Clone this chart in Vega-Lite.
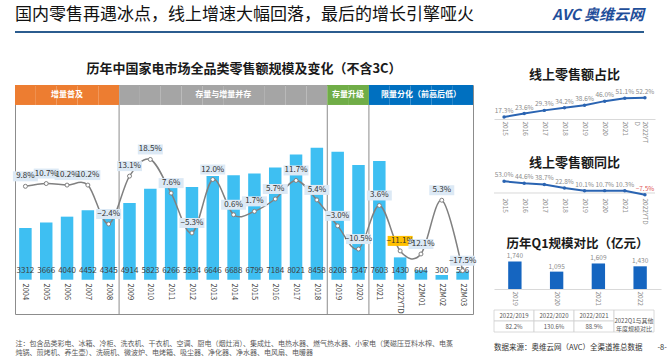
{
  "$schema": "https://vega.github.io/schema/vega-lite/v6.json",
  "padding": {"left": 12, "top": 6, "right": 0, "bottom": 0},
  "background": "white",
  "config": {"font": "Noto Sans CJK SC", "view": {"stroke": null}},
  "datasets": {
    "main": [
      {"cat": "2004", "sales": 3312, "growth": 0.098, "seg": "增量普及"},
      {"cat": "2005", "sales": 3666, "growth": 0.107, "seg": "增量普及"},
      {"cat": "2006", "sales": 4040, "growth": 0.102, "seg": "增量普及"},
      {"cat": "2007", "sales": 4452, "growth": 0.102, "seg": "增量普及"},
      {"cat": "2008", "sales": 4345, "growth": -0.024, "seg": "增量普及"},
      {"cat": "2009", "sales": 4914, "growth": 0.131, "seg": "存量与增量并存"},
      {"cat": "2010", "sales": 5823, "growth": 0.185, "seg": "存量与增量并存"},
      {"cat": "2011", "sales": 6266, "growth": 0.076, "seg": "存量与增量并存"},
      {"cat": "2012", "sales": 5934, "growth": -0.053, "seg": "存量与增量并存"},
      {"cat": "2013", "sales": 6646, "growth": 0.120, "seg": "存量与增量并存"},
      {"cat": "2014", "sales": 6688, "growth": 0.006, "seg": "存量与增量并存"},
      {"cat": "2015", "sales": 6799, "growth": 0.017, "seg": "存量与增量并存"},
      {"cat": "2016", "sales": 7184, "growth": 0.057, "seg": "存量与增量并存"},
      {"cat": "2017", "sales": 8021, "growth": 0.117, "seg": "存量与增量并存"},
      {"cat": "2018", "sales": 8458, "growth": 0.054, "seg": "存量与增量并存"},
      {"cat": "2019", "sales": 8208, "growth": -0.030, "seg": "存量升级"},
      {"cat": "2020", "sales": 7347, "growth": -0.105, "seg": "存量升级"},
      {"cat": "2021", "sales": 7603, "growth": 0.036, "seg": "限量分化（前高后低）"},
      {"cat": "2022YTD", "sales": 1430, "growth": -0.111, "seg": "限量分化（前高后低）"},
      {"cat": "22M01", "sales": 604, "growth": -0.121, "seg": "限量分化（前高后低）"},
      {"cat": "22M02", "sales": 300, "growth": 0.053, "seg": "限量分化（前高后低）"},
      {"cat": "22M03", "sales": 526, "growth": -0.175, "seg": "限量分化（前高后低）"}
    ],
    "segs": [
      {"seg": "增量普及", "cat": "2006", "pos": "mid"},
      {"seg": "存量与增量并存", "cat": "2013", "pos": "end"},
      {"seg": "存量升级", "cat": "2019", "pos": "end"},
      {"seg": "限量分化（前高后低）", "cat": "22M01", "pos": "mid"}
    ],
    "bounds": [{"cat": "2008"}, {"cat": "2018"}, {"cat": "2020"}],
    "share": [
      {"yr": "2015", "v": 0.173}, {"yr": "2016", "v": 0.236}, {"yr": "2017", "v": 0.293},
      {"yr": "2018", "v": 0.342}, {"yr": "2019", "v": 0.386}, {"yr": "2020", "v": 0.460},
      {"yr": "2021", "v": 0.511}, {"yr": "2022YTD", "v": 0.522}
    ],
    "yoy": [
      {"yr": "2015", "v": 0.530}, {"yr": "2016", "v": 0.446}, {"yr": "2017", "v": 0.387},
      {"yr": "2018", "v": 0.228}, {"yr": "2019", "v": 0.101}, {"yr": "2020", "v": 0.107},
      {"yr": "2021", "v": 0.103}, {"yr": "2022YTD", "v": -0.075}
    ],
    "q1": [
      {"yr": "2019", "v": 1740}, {"yr": "2020", "v": 1095}, {"yr": "2021", "v": 1609}, {"yr": "2022", "v": 1430}
    ],
    "tbl": [
      {"c": "a", "r": "1", "t": "2022/2019"}, {"c": "b", "r": "1", "t": "2022/2020"}, {"c": "c", "r": "1", "t": "2022/2021"},
      {"c": "a", "r": "2", "t": "82.2%"}, {"c": "b", "r": "2", "t": "130.6%"}, {"c": "c", "r": "2", "t": "88.9%"}
    ],
    "tblm": [{"c": "d", "t": "2022Q1与其他\n年度规模对比"}]
  },
  "spacing": 25,
  "vconcat": [
    {
      "spacing": 0,
      "bounds": "flush",
      "hconcat": [
        {
          "width": 520, "height": 2,
          "view": {"fill": "#2B5C8F", "stroke": null},
          "title": {"text": "国内零售再遇冰点，线上增速大幅回落，最后的增长引擎哑火", "anchor": "start", "frame": "group", "fontSize": 17, "fontWeight": "normal", "color": "#111111", "offset": 2},
          "data": {"values": [{}]},
          "mark": {"type": "text", "text": ""},
          "encoding": {}
        },
        {
          "width": 109, "height": 2,
          "view": {"fill": "#2B5C8F", "stroke": null},
          "title": {"text": "AVC 奥维云网", "anchor": "end", "frame": "group", "fontSize": 15, "fontWeight": "bold", "fontStyle": "italic", "color": "#1F4E9A", "offset": 3},
          "data": {"values": [{}]},
          "mark": {"type": "text", "text": ""},
          "encoding": {}
        }
      ]
    },
    {
      "spacing": 16,
      "hconcat": [
        {
          "width": 458, "height": 229,
          "view": {"stroke": "#8C8C8C", "strokeWidth": 1},
          "title": {"text": "历年中国家电市场全品类零售额规模及变化（不含3C）", "anchor": "middle", "frame": "group", "fontSize": 13, "fontWeight": "bold", "color": "#1a1a1a", "offset": 9},
          "resolve": {"scale": {"y": "independent"}},
          "layer": [
            {
              "data": {"name": "main"},
              "mark": {"type": "rect"},
              "encoding": {
                "x": {"field": "cat", "type": "nominal", "scale": {"domain": ["2004","2005","2006","2007","2008","2009","2010","2011","2012","2013","2014","2015","2016","2017","2018","2019","2020","2021","2022YTD","22M01","22M02","22M03"], "paddingInner": 0, "paddingOuter": 0}, "axis": {"orient": "bottom", "offset": -34, "labelAngle": 90, "labelFontSize": 7.5, "labelColor": "#404040", "domain": false, "ticks": false, "labelPadding": 3, "title": ["注：包含品类彩电、冰箱、冷柜、洗衣机、干衣机、空调、厨电（烟灶消）、集成灶、电热水器、燃气热水器、小家电（煲磁压豆料水榨、电蒸", "炖锅、煎烤机、养生壶）、洗碗机、微波炉、电烤箱、吸尘器、净化器、净水器、电风扇、电暖器"], "titleFontSize": 7, "titleFontWeight": "normal", "titleColor": "#595959", "titleAnchor": "start", "titlePadding": 26, "titleLineHeight": 9}},
                "y": {"datum": 12480, "type": "quantitative", "scale": {"domain": [-2200, 12480], "nice": false, "zero": false}, "axis": null},
                "y2": {"datum": 11200},
                "color": {"field": "seg", "type": "nominal", "scale": {"domain": ["增量普及", "存量与增量并存", "存量升级", "限量分化（前高后低）"], "range": ["#ED7D31", "#A5A5A5", "#70AD47", "#0070C0"]}, "legend": null}
              }
            },
            {
              "data": {"name": "segs"},
              "transform": [{"filter": "datum.pos === 'mid'"}],
              "mark": {"type": "text", "color": "white", "fontSize": 8, "fontWeight": "bold", "baseline": "middle"},
              "encoding": {
                "x": {"field": "cat", "type": "nominal"},
                "y": {"datum": 11840, "type": "quantitative", "scale": {"domain": [-2200, 12480], "nice": false, "zero": false}, "axis": null},
                "text": {"field": "seg"}
              }
            },
            {
              "data": {"name": "segs"},
              "transform": [{"filter": "datum.pos === 'end'"}],
              "mark": {"type": "text", "color": "white", "fontSize": 8, "fontWeight": "bold", "baseline": "middle"},
              "encoding": {
                "x": {"field": "cat", "type": "nominal", "bandPosition": 1},
                "y": {"datum": 11840, "type": "quantitative", "scale": {"domain": [-2200, 12480], "nice": false, "zero": false}, "axis": null},
                "text": {"field": "seg"}
              }
            },
            {
              "data": {"name": "main"},
              "mark": {"type": "bar", "width": {"band": 0.6}, "color": "#3EBFF2"},
              "encoding": {
                "x": {"field": "cat", "type": "nominal"},
                "y": {"field": "sales", "type": "quantitative", "scale": {"domain": [-2200, 12480], "nice": false, "zero": false}, "axis": null},
                "y2": {"datum": 0}
              }
            },
            {
              "data": {"name": "bounds"},
              "mark": {"type": "rule", "color": "#8C8C8C", "strokeWidth": 1},
              "encoding": {
                "x": {"field": "cat", "type": "nominal", "bandPosition": 1},
                "y": {"datum": 11200, "type": "quantitative", "scale": {"domain": [-2200, 12480], "nice": false, "zero": false}, "axis": null},
                "y2": {"datum": -2200}
              }
            },
            {
              "data": {"name": "main"},
              "mark": {"type": "text", "fontSize": 8, "color": "#404040", "baseline": "middle"},
              "encoding": {
                "x": {"field": "cat", "type": "nominal"},
                "y": {"datum": 560, "type": "quantitative", "scale": {"domain": [-2200, 12480], "nice": false, "zero": false}, "axis": null},
                "text": {"field": "sales", "type": "quantitative", "format": "d"}
              }
            },
            {
              "data": {"name": "main"},
              "mark": {"type": "line", "interpolate": "cardinal", "color": "#808080", "strokeWidth": 1.5},
              "encoding": {
                "x": {"field": "cat", "type": "nominal"},
                "y": {"field": "growth", "type": "quantitative", "scale": {"domain": [-0.3152, 0.4259], "nice": false, "zero": false}, "axis": null}
              }
            },
            {
              "data": {"name": "main"},
              "mark": {"type": "point", "filled": true, "fill": "white", "stroke": "#808080", "strokeWidth": 1, "size": 16, "opacity": 1},
              "encoding": {
                "x": {"field": "cat", "type": "nominal"},
                "y": {"field": "growth", "type": "quantitative", "scale": {"domain": [-0.3152, 0.4259], "nice": false, "zero": false}, "axis": null}
              }
            },
            {
              "data": {"name": "main"},
              "mark": {"type": "point", "shape": "M-1,-0.4H1V0.4H-1Z", "size": 625, "filled": true, "opacity": 1, "strokeWidth": 0, "yOffset": -10},
              "encoding": {
                "x": {"field": "cat", "type": "nominal"},
                "y": {"field": "growth", "type": "quantitative", "scale": {"domain": [-0.3152, 0.4259], "nice": false, "zero": false}, "axis": null},
                "color": {"condition": {"test": "datum.cat === '2022YTD'", "value": "#FFC000"}, "value": "#DCE9F5"}
              }
            },
            {
              "data": {"name": "main"},
              "mark": {"type": "text", "fontSize": 8, "color": "#333333", "baseline": "middle", "yOffset": -10},
              "encoding": {
                "x": {"field": "cat", "type": "nominal"},
                "y": {"field": "growth", "type": "quantitative", "scale": {"domain": [-0.3152, 0.4259], "nice": false, "zero": false}, "axis": null},
                "text": {"field": "growth", "type": "quantitative", "format": ".1%"}
              }
            }
          ]
        },
        {
          "spacing": 3,
          "vconcat": [
            {
              "width": 161, "height": 34,
              "title": {"text": "线上零售额占比", "anchor": "middle", "frame": "group", "fontSize": 13, "fontWeight": "bold", "color": "#1a1a1a", "offset": 3.5},
              "data": {"name": "share"},
              "layer": [
                {
                  "mark": {"type": "line", "color": "#2A64B2", "strokeWidth": 2},
                  "encoding": {
                    "x": {"field": "yr", "type": "ordinal", "sort": null, "scale": {"type": "point", "padding": 0.5}, "axis": {"labelAngle": 90, "labelFontSize": 6.5, "labelColor": "#8C8C8C", "domainColor": "#D9D9D9", "ticks": false, "title": null, "labelPadding": 2, "labelExpr": "datum.label == '2022YTD' ? ['2022YT', 'D'] : datum.label"}},
                    "y": {"field": "v", "type": "quantitative", "scale": {"domain": [0.137, 0.752], "nice": false, "zero": false}, "axis": null}
                  }
                },
                {
                  "mark": {"type": "point", "filled": true, "color": "#2A64B2", "size": 12, "opacity": 1},
                  "encoding": {
                    "x": {"field": "yr", "type": "ordinal", "sort": null},
                    "y": {"field": "v", "type": "quantitative"}
                  }
                },
                {
                  "mark": {"type": "text", "fontSize": 6.5, "color": "#8C8C8C", "baseline": "bottom", "dy": -3},
                  "encoding": {
                    "x": {"field": "yr", "type": "ordinal", "sort": null},
                    "y": {"field": "v", "type": "quantitative"},
                    "text": {"field": "v", "type": "quantitative", "format": ".1%"}
                  }
                }
              ]
            },
            {
              "width": 161, "height": 18,
              "title": {"text": ["", "线上零售额同比"], "lineHeight": 11, "anchor": "middle", "frame": "group", "fontSize": 13, "fontWeight": "bold", "color": "#1a1a1a", "offset": 2},
              "layer": [
                {
                  "data": {"values": [{"z": 0}]},
                  "mark": {"type": "rule", "color": "#D9D9D9"},
                  "encoding": {
                    "y": {"field": "z", "type": "quantitative", "scale": {"domain": [-0.136, 0.679], "nice": false, "zero": false}, "axis": null}
                  }
                },
                {
                  "data": {"name": "yoy"},
                  "mark": {"type": "line", "color": "#2A64B2", "strokeWidth": 2},
                  "encoding": {
                    "x": {"field": "yr", "type": "ordinal", "sort": null, "scale": {"type": "point", "padding": 0.5}, "axis": {"labelAngle": 90, "labelFontSize": 6.5, "labelColor": "#8C8C8C", "domain": false, "ticks": false, "title": null, "labelPadding": 2}},
                    "y": {"field": "v", "type": "quantitative"}
                  }
                },
                {
                  "data": {"name": "yoy"},
                  "mark": {"type": "point", "filled": true, "color": "#2A64B2", "size": 12, "opacity": 1},
                  "encoding": {
                    "x": {"field": "yr", "type": "ordinal", "sort": null},
                    "y": {"field": "v", "type": "quantitative"}
                  }
                },
                {
                  "data": {"name": "yoy"},
                  "mark": {"type": "text", "fontSize": 6.5, "baseline": "bottom", "dy": -3},
                  "encoding": {
                    "x": {"field": "yr", "type": "ordinal", "sort": null},
                    "y": {"field": "v", "type": "quantitative"},
                    "text": {"field": "v", "type": "quantitative", "format": ".1%"},
                    "color": {"condition": {"test": "datum.v < 0", "value": "#E05555"}, "value": "#8C8C8C"}
                  }
                }
              ]
            },
            {
              "width": 167, "height": 30,
              "title": {"text": ["", "历年Q1规模对比（亿元）"], "lineHeight": 9, "anchor": "middle", "frame": "group", "fontSize": 12.5, "fontWeight": "bold", "color": "#1a1a1a", "offset": 3},
              "data": {"name": "q1"},
              "layer": [
                {
                  "mark": {"type": "bar", "width": {"band": 0.32}, "color": "#1565C0"},
                  "encoding": {
                    "x": {"field": "yr", "type": "nominal", "sort": null, "scale": {"paddingInner": 0, "paddingOuter": 0}, "axis": {"labelAngle": 90, "labelFontSize": 6.5, "labelColor": "#8C8C8C", "domainColor": "#D9D9D9", "ticks": false, "title": null, "labelPadding": 2}},
                    "y": {"field": "v", "type": "quantitative", "scale": {"domain": [0, 1891], "nice": false}, "axis": null}
                  }
                },
                {
                  "mark": {"type": "text", "fontSize": 6.5, "color": "#8C8C8C", "baseline": "bottom", "dy": -2},
                  "encoding": {
                    "x": {"field": "yr", "type": "nominal", "sort": null},
                    "y": {"field": "v", "type": "quantitative"},
                    "text": {"field": "v", "type": "quantitative", "format": ",d"}
                  }
                }
              ]
            },
            {
              "width": 160, "height": 22,
              "title": {"text": "数据来源：奥维云网（AVC）全渠道推总数据　　-8-", "orient": "bottom", "anchor": "start", "frame": "group", "fontSize": 7.5, "fontWeight": "normal", "color": "#333333", "offset": 12},
              "layer": [
                {
                  "data": {"name": "tbl"},
                  "mark": {"type": "rect", "fill": "white", "stroke": "#D0D0D0", "strokeWidth": 0.8},
                  "encoding": {
                    "x": {"field": "c", "type": "nominal", "scale": {"domain": ["a", "b", "c", "d"], "paddingInner": 0, "paddingOuter": 0}, "axis": null},
                    "y": {"field": "r", "type": "nominal", "scale": {"domain": ["1", "2"], "paddingInner": 0, "paddingOuter": 0}, "axis": null}
                  }
                },
                {
                  "data": {"name": "tblm"},
                  "mark": {"type": "rect", "fill": "white", "stroke": "#D0D0D0", "strokeWidth": 0.8},
                  "encoding": {"x": {"field": "c", "type": "nominal"}}
                },
                {
                  "data": {"name": "tbl"},
                  "mark": {"type": "text", "fontSize": 6, "color": "#595959", "baseline": "middle"},
                  "encoding": {
                    "x": {"field": "c", "type": "nominal"},
                    "y": {"field": "r", "type": "nominal"},
                    "text": {"field": "t"}
                  }
                },
                {
                  "data": {"name": "tblm"},
                  "mark": {"type": "text", "fontSize": 6, "color": "#595959", "baseline": "middle", "lineBreak": "\n", "lineHeight": 8},
                  "encoding": {"x": {"field": "c", "type": "nominal"}, "text": {"field": "t"}}
                }
              ]
            }
          ]
        }
      ]
    }
  ]
}
